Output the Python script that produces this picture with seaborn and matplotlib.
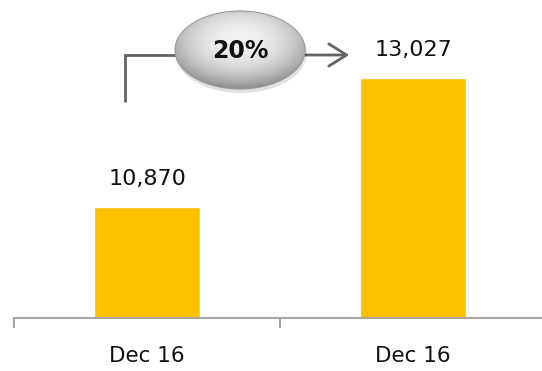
import numpy as np
import pandas as pd
import matplotlib
matplotlib.use("Agg")
import matplotlib.pyplot as plt
from matplotlib.patches import Ellipse, FancyArrowPatch
import seaborn as sns

# Data
periods = ["Dec 16", "Dec 16"]
values = [10870, 13027]
growth_label = "20%"

BAR_COLOR = "#FFC000"
AXIS_GREY = "#A6A6A6"
LINE_GREY = "#646464"

sns.set_theme(style="white")
plt.rcParams["font.family"] = ["DejaVu Sans"]

W, H = 542, 371
fig = plt.figure(figsize=(W / 100, H / 100), dpi=100)

# Main bar axes (baseline near the bottom, extends past the right edge)
left_px, right_px, base_px = 14, 546, 318
ax = fig.add_axes([left_px / W, (H - base_px) / H, (right_px - left_px) / W, base_px / H])

df = pd.DataFrame({"slot": [str(i) for i in range(len(values))], "value": values})
sns.barplot(data=df, x="slot", y="value", color=BAR_COLOR, width=0.4,
            saturation=1, ax=ax)
ax.set_ylim(9015, 14330)
ax.set_xlim(-0.5, len(values) - 0.5)

for c in ax.containers:
    ax.bar_label(c, labels=[f"{v:,}" for v in values], padding=13,
                 fontsize=16, color="#111111")

# Axis styling: only a grey baseline with boundary ticks
for s in ["top", "right", "left"]:
    ax.spines[s].set_visible(False)
ax.spines["bottom"].set_color(AXIS_GREY)
ax.spines["bottom"].set_linewidth(1.5)
ax.set_yticks([])
ax.set_ylabel("")
ax.set_xlabel("")
ax.set_xticks(range(len(values)))
ax.set_xticklabels(periods, fontsize=15.5, color="#111111")
ax.tick_params(axis="x", which="major", length=0, pad=20)
ax.set_xticks(np.arange(-0.5, len(values), 1.0), minor=True)
ax.tick_params(axis="x", which="minor", bottom=True, length=7, width=1.5,
               color=AXIS_GREY, direction="out")

# Overlay in pixel coordinates for the growth callout
ov = fig.add_axes([0, 0, 1, 1])
ov.set_xlim(0, W)
ov.set_ylim(H, 0)
ov.axis("off")
ov.patch.set_alpha(0)

# Elbow connector into the oval
ov.plot([125, 125, 185], [102, 55, 55], color=LINE_GREY, lw=2,
        solid_joinstyle="miter", solid_capstyle="butt", zorder=1)
# Arrow out of the oval
arr = FancyArrowPatch((300, 55), (352, 55), arrowstyle="->,head_length=8,head_width=5",
                      color=LINE_GREY, lw=2, mutation_scale=1.6, zorder=1)
ov.add_patch(arr)

# Shaded oval
cx, cy, ew, eh = 240, 50, 130, 78
shadow = Ellipse((cx + 1, cy + 3), ew + 2, eh + 2, facecolor="#000000", alpha=0.12,
                 edgecolor="none", zorder=2)
ov.add_patch(shadow)
gx = np.linspace(cx - ew / 2, cx + ew / 2, 300)
gy = np.linspace(cy - eh / 2, cy + eh / 2, 200)
GX, GY = np.meshgrid(gx, gy)
r = np.sqrt(((GX - cx) / (ew / 2)) ** 2 + ((GY - (cy - eh * 0.12)) / (eh / 2)) ** 2)
shade = np.clip(1.0 - 0.55 * r ** 2.2, 0, 1)
lo = np.array([0x80, 0x80, 0x80]) / 255
hi = np.array([0xF2, 0xF2, 0xF2]) / 255
img = lo[None, None, :] + (hi - lo)[None, None, :] * shade[..., None]
im = ov.imshow(img, extent=(gx[0], gx[-1], gy[-1], gy[0]), zorder=3,
               interpolation="bilinear", aspect="auto")
oval = Ellipse((cx, cy), ew, eh, facecolor="none", edgecolor="#9A9A9A", lw=0.8, zorder=4)
ov.add_patch(oval)
im.set_clip_path(oval)
ov.set_xlim(0, W)
ov.set_ylim(H, 0)

ov.text(cx, cy + 1, growth_label, ha="center", va="center", fontsize=17,
        fontweight="bold", color="#111111", zorder=5)

fig.savefig("out.png", dpi=100)
